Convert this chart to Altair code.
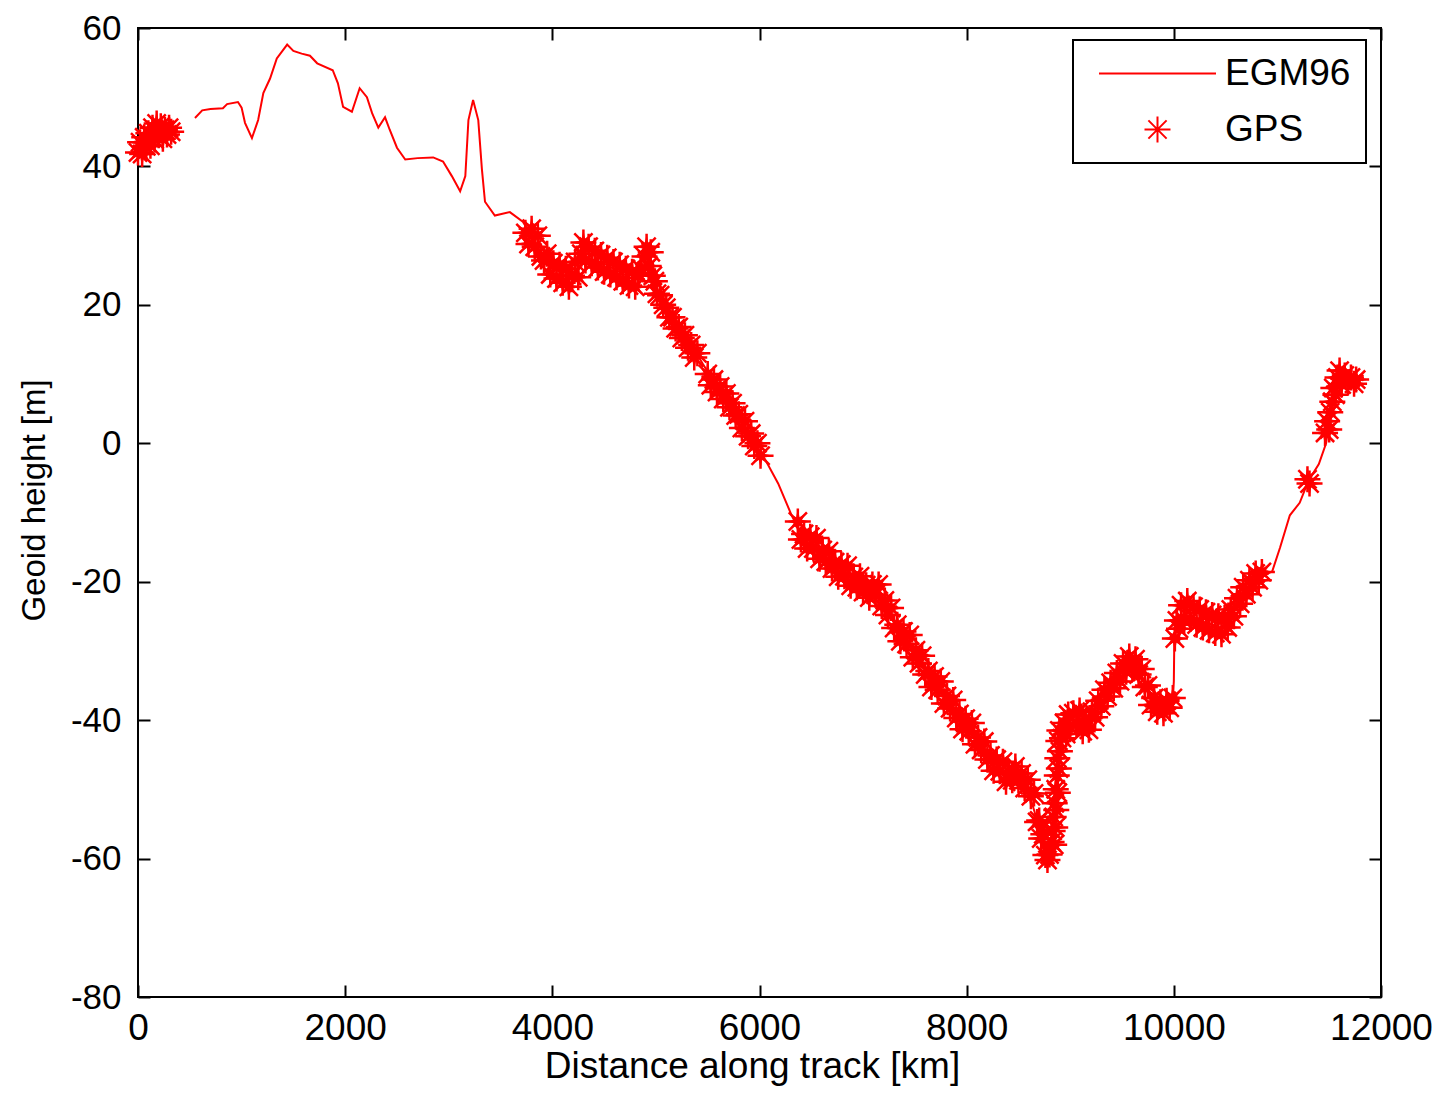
import altair as alt
import pandas as pd

FONT = "Liberation Sans"

# ---- EGM96 model line (distance km, geoid height m) ----
egm_km = [550, 620, 700, 820, 860, 965, 1000, 1033, 1100, 1160, 1210, 1275, 1340, 1440, 1500,
          1580, 1660, 1730, 1880, 1930, 1980, 2065, 2140, 2210, 2260, 2320, 2385, 2430, 2500,
          2580, 2700, 2850, 2945, 3030, 3110, 3160, 3190, 3235, 3285, 3320, 3350, 3445, 3590,
          3715, 3800, 3950, 4140, 4300, 4500, 4800, 4920, 5010, 5200, 5400, 5455, 5600, 5800,
          6000, 6060, 6180, 6310, 6400, 6700, 7000, 7200, 7400, 7600, 7800, 8000, 8200, 8400,
          8560, 8700, 8780, 8840, 8880, 8920, 9060, 9150, 9300, 9570, 9700, 9800, 9990, 10000,
          10005, 10050, 10300, 10500, 10700, 10850, 10950, 11025, 11120, 11215, 11300, 11400,
          11470, 11500, 11540, 11600, 11830]
egm_m = [47.0, 48.1, 48.3, 48.4, 49.0, 49.3, 48.5, 46.3, 44.1, 46.7, 50.6, 52.7, 55.6, 57.6, 56.7,
         56.3, 56.0, 54.9, 53.9, 52.0, 48.6, 47.9, 51.3, 50.0, 47.7, 45.6, 47.1, 45.3, 42.7,
         41.0, 41.2, 41.3, 40.7, 38.6, 36.4, 38.6, 46.7, 49.6, 46.7, 39.6, 34.9, 32.9, 33.4,
         32.0, 30.0, 26.0, 24.0, 27.0, 26.0, 23.5, 26.5, 22.0, 17.0, 12.8, 11.4, 8.0, 3.5,
         -1.2, -2.5, -5.8, -10.4, -13.0, -17.2, -20.6, -22.8, -28.2, -32.8, -37.0, -41.0, -45.2, -48.0,
         -48.4, -55.5, -59.5, -55.8, -45.0, -41.5, -39.0, -41.0, -36.5, -31.2, -34.0, -37.6, -37.0, -34.4,
         -28.0, -25.0, -25.4, -25.8, -21.0, -19.3, -18.5, -15.1, -10.4, -8.6, -5.4, -3.0,
         0.0, 3.0, 7.0, 9.5, 9.1]

# ---- GPS observations, by track segment ----
gps_km_a = [0, 20, 40, 60, 80, 100, 120, 140, 160, 180, 200, 220, 240, 260, 280, 300, 320]
gps_m_a = [42.0, 43.5, 41.8, 44.2, 42.9, 44.8, 43.0, 45.6, 43.9, 46.2, 44.5, 45.8, 44.0, 45.3, 44.6, 45.6, 45.0]

gps_km_b = [3740, 3770, 3800, 3830, 3860, 3890, 3920, 3950, 3980, 4010, 4040, 4070, 4100, 4130, 4160,
            4190, 4220, 4250, 4280, 4300, 4320, 4350, 4380, 4410, 4440, 4470, 4500, 4530, 4560, 4590,
            4620, 4650, 4680, 4710, 4740, 4770, 4800, 4830, 4860, 4890, 4910, 4930, 4950, 4970, 4990,
            5010, 5040, 5070, 5100, 5130, 5160, 5190, 5220, 5250, 5280, 5310, 5340, 5370, 5400]
gps_m_b = [30.4, 28.8, 31.0, 28.4, 30.0, 27.0, 26.4, 27.4, 24.4, 26.0, 23.8, 25.8, 23.2, 25.2, 22.6,
           24.2, 26.2, 24.0, 27.4, 29.0, 26.4, 28.4, 26.0, 27.8, 25.4, 27.2, 24.8, 26.8, 24.4, 26.2,
           24.0, 25.8, 23.4, 25.2, 22.8, 24.8, 22.6, 24.4, 25.2, 27.0, 28.4, 25.6, 27.6, 24.2, 23.4,
           21.6, 21.4, 20.0, 19.6, 18.2, 18.2, 16.6, 16.8, 15.2, 15.6, 13.8, 14.2, 12.4, 13.0]

gps_km_c = [5500, 5530, 5560, 5590, 5620, 5650, 5680, 5710, 5740, 5770, 5800, 5830, 5860, 5890,
            5920, 5950, 5980, 6010]
gps_m_c = [10.0, 8.4, 9.2, 7.4, 8.2, 6.4, 7.2, 5.2, 5.8, 4.0, 4.2, 2.2, 3.2, 1.0, 1.4, -0.4, 0.0, -1.8]

gps_km_d = [6370, 6400, 6430, 6460, 6490, 6520, 6550, 6580, 6610, 6640, 6670, 6700, 6730, 6760, 6790,
            6820, 6850, 6880, 6910, 6940, 6970, 7000, 7030, 7060, 7090, 7120, 7150, 7180, 7210, 7240,
            7270, 7300, 7330, 7360, 7390, 7420, 7450, 7480, 7510, 7540, 7570, 7600, 7630, 7660, 7690,
            7720, 7750, 7780, 7810, 7840, 7870, 7900, 7930, 7960, 7990, 8020, 8050, 8080, 8110, 8140,
            8170, 8200, 8230, 8260, 8290, 8320, 8350, 8380, 8410, 8440, 8470, 8500, 8530, 8560, 8590,
            8620, 8650, 8680, 8700, 8720, 8740, 8760, 8780, 8800, 8820, 8830, 8840, 8845, 8850, 8855,
            8860, 8865, 8870, 8875, 8880, 8885, 8890, 8895, 8900, 8920, 8940, 8960, 8980, 9000, 9030,
            9060, 9090, 9120, 9150, 9180, 9210, 9240, 9270, 9300, 9330, 9360, 9390, 9420, 9450, 9480,
            9510, 9540, 9570, 9600, 9630, 9660, 9690, 9720, 9750, 9780, 9810, 9840, 9870, 9900, 9930,
            9960, 9990]
gps_m_d = [-11.3, -13.9, -13.1, -15.2, -13.5, -15.2, -13.7, -16.7, -15.4, -17.1, -15.6, -18.1, -17.2, -19.3, -17.5,
           -19.2, -17.7, -20.6, -19.3, -20.8, -19.2, -21.5, -20.5, -22.3, -20.4, -21.9, -20.4, -23.5, -22.7, -24.8,
           -23.8, -26.7, -26.2, -28.6, -27.2, -29.0, -27.7, -30.9, -29.9, -31.8, -30.7, -33.4, -32.9, -35.2, -33.7,
           -35.6, -34.4, -37.6, -36.5, -38.3, -37.1, -39.7, -39.1, -41.3, -39.8, -41.6, -40.4, -43.5, -42.5, -44.3,
           -43.1, -45.7, -45.1, -47.3, -45.7, -47.4, -46.0, -48.9, -47.5, -48.7, -46.7, -48.7, -47.7, -49.8, -48.6,
           -51.0, -50.6, -54.7, -54.5, -57.1, -56.5, -59.5, -60.2, -59.4, -57.6, -56.0, -54.0, -58.0, -52.0, -55.5,
           -50.0, -53.0, -48.0, -45.5, -50.5, -43.0, -47.0, -41.5, -44.5, -42.6, -40.4, -42.0, -39.2, -41.0, -39.0,
           -40.6, -38.6, -41.6, -40.0, -41.4, -38.8, -39.6, -37.2, -38.0, -35.6, -36.6, -34.6, -35.4, -33.2, -34.4,
           -31.8, -33.0, -30.8, -32.6, -31.2, -33.4, -32.6, -35.2, -35.0, -37.8, -36.8, -38.8, -37.4, -39.0, -37.2,
           -38.2, -36.8]

gps_km_e = [10010, 10030, 10050, 10070, 10100, 10130, 10160, 10190, 10220, 10250, 10280, 10310, 10340,
            10370, 10400, 10430, 10460, 10490, 10520, 10550, 10580, 10610, 10640, 10670, 10700, 10730,
            10760, 10790, 10820, 10850]
gps_m_e = [-28.2, -25.6, -26.8, -23.4, -25.6, -22.8, -25.4, -23.6, -26.2, -24.0, -26.6, -24.4, -27.0,
           -24.8, -27.4, -25.0, -27.6, -25.2, -26.6, -24.0, -25.0, -22.4, -23.2, -20.8, -21.8, -19.8,
           -20.8, -18.8, -19.8, -18.6]

gps_km_f = [11290, 11310]
gps_m_f = [-5.2, -5.8]

gps_km_g = [11460, 11480, 11500, 11510, 11530, 11540, 11560, 11580, 11600, 11620, 11650, 11680, 11710, 11740, 11760]
gps_m_g = [1.5, 3.2, 2.0, 4.5, 6.0, 8.0, 7.0, 9.5, 10.5, 8.5, 9.8, 8.8, 9.5, 8.6, 9.2]

series_names = ["EGM96", "GPS"]
x_ticks = [0, 2000, 4000, 6000, 8000, 10000, 12000]
y_ticks = [-80, -60, -40, -20, 0, 20, 40, 60]

line_df = pd.DataFrame({"km": egm_km, "m": egm_m})
gps_df = pd.DataFrame({
    "km": gps_km_a + gps_km_b + gps_km_c + gps_km_d + gps_km_e + gps_km_f + gps_km_g,
    "m": gps_m_a + gps_m_b + gps_m_c + gps_m_d + gps_m_e + gps_m_f + gps_m_g,
})
gps_df["series"] = "GPS"

STAR = "M-1,0L1,0M0,-1L0,1M-0.7,-0.7L0.7,0.7M-0.7,0.7L0.7,-0.7"
STAR_FILL = ("M1,0L0.32,0.13L0.62,0.62L0.13,0.32L0,1L-0.13,0.32L-0.62,0.62L-0.32,0.13L-1,0"
             "L-0.32,-0.13L-0.62,-0.62L-0.13,-0.32L0,-1L0.13,-0.32L0.62,-0.62L0.32,-0.13Z")
LINE_SYM = "M-4.5,0L4.5,0"

xscale = alt.Scale(domain=[0, 12000], nice=False, zero=False)
yscale = alt.Scale(domain=[-80, 60], nice=False, zero=False)

tick_common = dict(tickSize=12, tickWidth=2, tickColor="black", offset=-12, domain=False, grid=False)
label_common = dict(labelFont=FONT, labelColor="black", labelFlush=False,
                    labelOverlap=False, labelExpr="'' + datum.value")

x_bottom = alt.Axis(orient="bottom", values=x_ticks, labelPadding=13, labelFontSize=37,
                    titleFont=FONT, titleFontSize=37, titleFontWeight="normal", titleColor="black",
                    titleX=614, titleY=92, titleBaseline="alphabetic", titleAlign="center",
                    **tick_common, **label_common)
x_top = alt.Axis(orient="top", values=x_ticks, labels=False, **tick_common)
y_left = alt.Axis(orient="left", values=y_ticks, labelPadding=17, labelFontSize=35,
                  titleFont=FONT, titleFontSize=33, titleFontWeight="normal", titleColor="black",
                  titleAngle=270, titleX=-106, titleY=472, titleBaseline="alphabetic", titleAlign="center",
                  **tick_common, **label_common)
y_right = alt.Axis(orient="right", values=y_ticks, labels=False, **tick_common)

line = alt.Chart(line_df).mark_line(color="red", strokeWidth=2).encode(
    x=alt.X("km:Q", scale=xscale, axis=x_bottom, title="Distance along track [km]"),
    y=alt.Y("m:Q", scale=yscale, axis=y_left, title="Geoid height [m]"),
)

fill_pts = alt.Chart(gps_df).mark_point(filled=True, color="red", size=676, strokeWidth=0, opacity=1).encode(
    x=alt.X("km:Q", scale=xscale, axis=None),
    y=alt.Y("m:Q", scale=yscale, axis=None),
    shape=alt.value(STAR_FILL),
)

points = alt.Chart(gps_df).mark_point(filled=False, color="red", size=676, strokeWidth=2.5, opacity=1).encode(
    x=alt.X("km:Q", scale=xscale, axis=x_top, title=None),
    y=alt.Y("m:Q", scale=yscale, axis=y_right, title=None),
    shape=alt.Shape("series:N",
                    scale=alt.Scale(domain=series_names, range=[LINE_SYM, STAR]),
                    legend=alt.Legend(title=None, orient="none", legendX=935, legendY=12,
                                      direction="vertical",
                                      strokeColor="black", fillColor="white", padding=15,
                                      labelFont=FONT, labelFontSize=37, labelColor="black",
                                      symbolSize=676, symbolStrokeWidth=2, symbolStrokeColor="red",
                                      symbolOffset=51, labelOffset=49, rowPadding=18)),
)

base = alt.layer(line, fill_pts, points).properties(
    width=1243, height=969,
    padding={"left": 130, "top": 20, "right": 52, "bottom": 94},
    autosize=alt.AutoSizeParams(type="none"),
    background="white",
).configure_view(stroke="black", strokeWidth=2)

try:
    chart = base.configure_legend(strokeWidth=2)
    chart.to_dict()
except Exception:
    chart = base

chart.save("out.html", embed_options={"renderer": "svg", "actions": False})
